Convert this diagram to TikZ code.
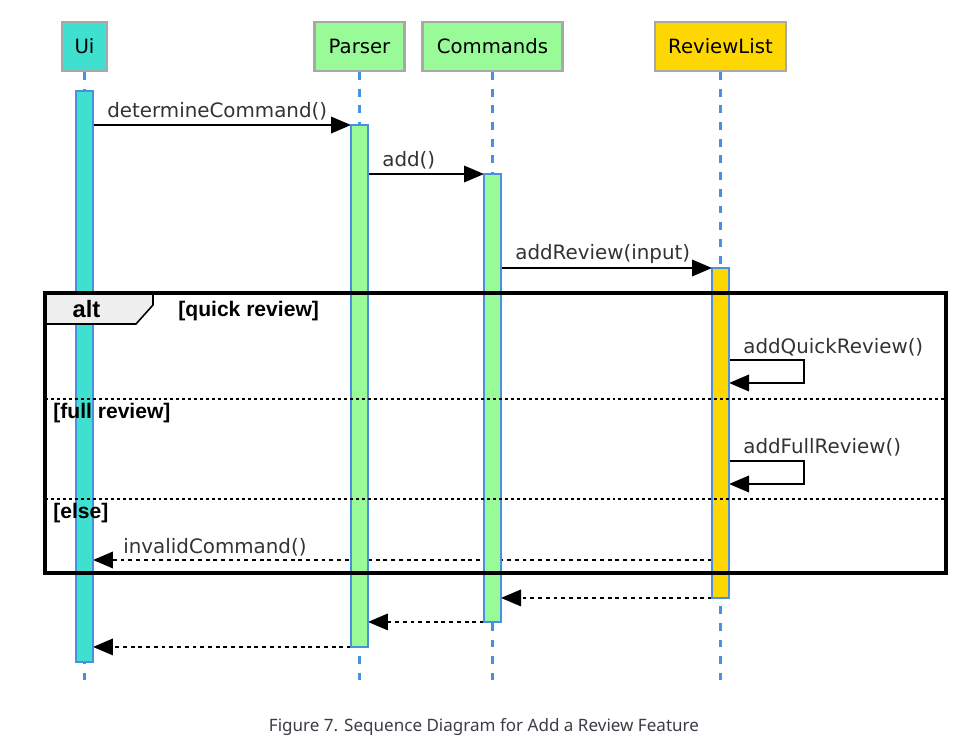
\documentclass[tikz,border=0pt]{standalone}
\usepackage{fontspec}
\setmainfont{DejaVu Sans}
\newfontfamily\guardfont{Liberation Sans}
\newfontfamily\capfont{Noto Sans}
\usetikzlibrary{arrows.meta, positioning, calc}

\definecolor{uiturq}{HTML}{40E0D0}
\definecolor{palegr}{HTML}{98FB98}
\definecolor{rlgold}{HTML}{FFD700}
\definecolor{boxgray}{HTML}{A8A8A8}
\definecolor{lifeblue}{HTML}{4A90E2}
\definecolor{lblgray}{HTML}{333333}
\definecolor{tabgray}{HTML}{EEEEEE}
\definecolor{capgray}{HTML}{3C3C46}

\begin{document}
\begin{tikzpicture}[x=0.02cm, y=-0.02cm, line join=miter,
    part/.style={draw=boxgray, line width=1.2pt, minimum height=0.98cm,
      inner sep=0pt, font=\fontsize{11.2}{13}\selectfont},
    life/.style={draw=lifeblue, line width=1.2pt, dash pattern=on 4.5pt off 5pt},
    act/.style={draw=lifeblue, line width=1.1pt, minimum width=0.34cm,
      inner sep=0pt, outer sep=0pt},
    msg/.style={line width=1.1pt, -{Triangle[length=4mm, width=3.3mm]}},
    ret/.style={msg, dash pattern=on 2.2pt off 2.2pt},
    lbl/.style={anchor=base west, inner sep=0pt, text=lblgray,
      font=\fontsize{11.3}{13}\selectfont},
    guard/.style={anchor=base west, inner sep=0pt,
      font=\guardfont\bfseries\fontsize{12}{14}\selectfont},
    sep/.style={line width=1.1pt, dash pattern=on 1.7pt off 1.7pt}]
  \useasboundingbox (0,0) rectangle (980,749);
  % --- participants ---------------------------------------------------
  \node[part, fill=uiturq, minimum width=0.9cm] (ui) at (84.5,46.5) {Ui};
  \node[part, fill=palegr, minimum width=1.8cm] (parser) at (359.5,46.5) {Parser};
  \node[part, fill=palegr, minimum width=2.8cm] (commands) at (492.5,46.5) {Commands};
  \node[part, fill=rlgold, minimum width=2.62cm] (reviewlist) at (720.5,46.5) {ReviewList};
  % lifelines
  \coordinate (lifeend) at (0,680);
  \foreach \p in {ui, parser, commands, reviewlist}
    \draw[life] (\p.south) -- (\p.south |- lifeend);
  % --- messages -------------------------------------------------------
  \coordinate (quick) at (0,360);
  \coordinate (full) at (0,461);
  \coordinate (invalid) at (0,560);
  % activation bars (placed first so arrows can refer to them)
  \node[act, fill=uiturq, minimum height=11.42cm, below=0.38cm of ui] (uibar) {};
  \node[act, fill=palegr, minimum height=10.44cm, below=1.06cm of parser] (pbar) {};
  \node[act, fill=palegr, minimum height=8.96cm, below=2.04cm of commands] (cbar) {};
  \node[act, fill=rlgold, minimum height=6.6cm, below=3.92cm of reviewlist] (rbar) {};
  \draw[msg] (uibar.east |- pbar.north west) -- (pbar.north west);
  \node[lbl] at (107,118) {determineCommand()};
  \draw[msg] (pbar.east |- cbar.north west) -- (cbar.north west);
  \node[lbl] at (382,167) {add()};
  \draw[msg] (cbar.east |- rbar.north west) -- (rbar.north west);
  \node[lbl] at (515,260) {addReview(input)};
  \draw[msg] (rbar.east |- quick) -- ++(75,0) -- ++(0,23) -- ++(-75,0);
  \node[lbl] at (743,353.5) {addQuickReview()};
  \draw[msg] (rbar.east |- full) -- ++(75,0) -- ++(0,23) -- ++(-75,0);
  \node[lbl] at (743,453.5) {addFullReview()};
  \draw[ret] (rbar.west |- invalid) -- (uibar.east |- invalid);
  \node[lbl] at (123,553.5) {invalidCommand()};
  \draw[ret] (rbar.south west) -- (cbar.east |- rbar.south west);
  \draw[ret] (cbar.south west) -- (pbar.east |- cbar.south west);
  \draw[ret] (pbar.south west) -- (uibar.east |- pbar.south west);
  % redraw bars on top of the lines
  \foreach \b/\c in {uibar/uiturq, pbar/palegr, cbar/palegr, rbar/rlgold}
    \draw[draw=lifeblue, line width=1.1pt, fill=\c] (\b.north west) rectangle (\b.south east);
  % --- alt fragment -----------------------------------------------------
  \coordinate (fr1) at (45,293);
  \coordinate (fr2) at (946,573);
  \coordinate (g2) at (0,399);
  \coordinate (g3) at (0,499);
  \draw[line width=0.9pt, fill=tabgray] (fr1) -- ++(108,0) -- ++(0,12) -- ++(-17,19)
     -- ($(fr1)+(0,31)$) -- cycle;
  \draw[line width=2pt] (fr1) rectangle (fr2);
  \draw[sep] (fr1 |- g2) -- (fr2 |- g2);
  \draw[sep] (fr1 |- g3) -- (fr2 |- g3);
  \node[anchor=base, inner sep=0pt, font=\guardfont\bfseries\fontsize{13.5}{15}\selectfont]
     (alt) at (86.5,318) {alt};
  \node[guard] at (178,317) {[quick review]};
  \node[guard] at (53,419) {[full review]};
  \node[guard] at (53,519) {[else]};
  % --- caption ------------------------------------------------------------
  \node[anchor=base, inner sep=0pt, text=capgray, font=\capfont\fontsize{9.7}{11}\selectfont]
     (caption) at (484,731) {Figure 7. Sequence Diagram for Add a Review Feature};
\end{tikzpicture}
\end{document}
